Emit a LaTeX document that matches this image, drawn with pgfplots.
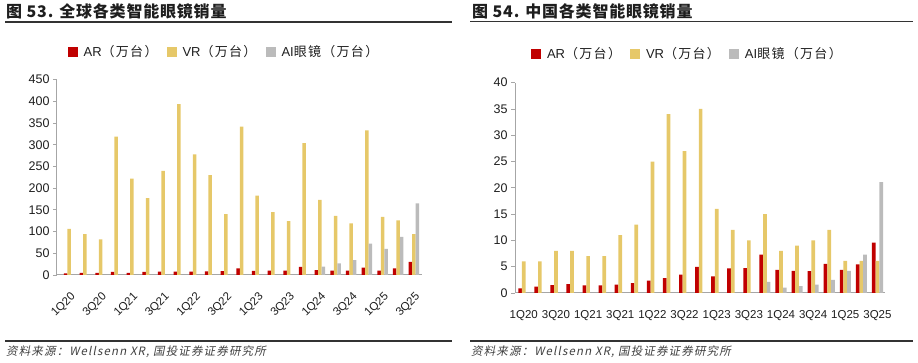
\documentclass[border=0pt]{standalone}
\usepackage{fontspec}
\setmainfont{Liberation Sans}
\newfontfamily\cjk{Noto Sans CJK SC}
\newfontfamily\cjkls{Noto Sans CJK SC}[LetterSpace=10]
\newfontfamily\cjkt{Noto Sans CJK SC}[LetterSpace=5]
\newfontfamily\cjkit{Noto Sans CJK SC}[FakeSlant=0.2,LetterSpace=10]
\usepackage{pgfplots}
\usepackage{pgfplotstable}
\pgfplotsset{compat=1.18}
\definecolor{arc}{RGB}{192,0,0}
\definecolor{vrc}{RGB}{230,200,105}
\definecolor{aic}{RGB}{187,187,187}
\definecolor{axc}{RGB}{166,166,166}
\definecolor{txc}{RGB}{30,30,30}

\pgfplotstableread{
i ar vr ai
0 4 106 nan
1 5 94 nan
2 5 82 nan
3 7 319 nan
4 5 222 nan
5 7 177 nan
6 8 240 nan
7 8 394 nan
8 8 278 nan
9 8.5 230 nan
10 9 140 nan
11 15 342 nan
12 9.5 183 nan
13 10 145 nan
14 10 124 nan
15 18.5 304 nan
16 11 173 19
17 10 136 27
18 10 119 34
19 17 333 72
20 10 134 60
21 15 126 88
22 30 94 165
}\globaltbl

\pgfplotstableread{
i ar vr ai
0 0.9 6 nan
1 1.2 6 nan
2 1.5 8 nan
3 1.7 8 nan
4 1.45 7 nan
5 1.45 7 nan
6 1.6 11 nan
7 1.9 13 nan
8 2.35 25 nan
9 2.85 34 nan
10 3.5 27 nan
11 4.95 35 nan
12 3.15 16 nan
13 4.7 12 nan
14 4.75 10 nan
15 7.3 15 2.1
16 4.4 8 1.0
17 4.2 9 1.3
18 4.15 10 1.6
19 5.55 12 2.5
20 4.4 6.1 4.2
21 5.45 6.1 7.3
22 9.6 6.1 21.1
}\chinatbl

\pgfplotsset{
  mybars/.style={
    scale only axis,
    ybar=0pt,
    axis lines=left,
    axis line style={-, draw=axc, line width=1pt},
    ymin=0,
    xtick={0,2,...,22},
    xticklabels={1Q20,3Q20,1Q21,3Q21,1Q22,3Q22,1Q23,3Q23,1Q24,3Q24,1Q25,3Q25},
    x tick style={draw=none},
    y tick style={draw=axc, line width=0.8pt},
    tick align=outside,
    major tick length=4pt,
    /pgf/number format/assume math mode=true,
    yticklabel style={font=\fontsize{12.5}{14}\selectfont, text=txc},
    legend columns=3,
    legend style={draw=none, fill=none, font=\fontsize{13}{15}\selectfont,
      text=txc, inner sep=0pt,
      /tikz/every even column/.append style={column sep=7pt},
      /tikz/every odd column/.append style={column sep=4pt}},
    every axis plot post/.append style={draw=none,
      legend image code/.code={\fill[##1] (0pt,-5pt) rectangle (10pt,5pt);}},
  }
}

\begin{document}
\begin{tikzpicture}[x=1pt,y=1pt]
\useasboundingbox (0,0) rectangle (918,363);

% ---------- left panel ----------
\node[anchor=west, inner sep=0pt, text=txc] at (6,352)
  {\fontsize{16}{18}\selectfont\cjkt\bfseries 图 53. 全球各类智能眼镜销量};
\draw[line width=1.3pt, color=black!80] (5,341) -- (452,341);

\begin{axis}[mybars,
  at={(57pt,88pt)}, anchor=south west,
  width=364.5pt, height=195.3pt,
  bar width=3.5pt,
  xmin=-0.78, xmax=22.49,
  ymax=450, ytick={0,50,...,450},
  xticklabel style={rotate=45, anchor=north east, inner sep=1pt,
    xshift=-7pt, yshift=-8pt,
    font=\fontsize{11.5}{14}\selectfont, text=txc},
  legend style={at={(0.458,1.144)}, anchor=center},
]
\addplot[fill=arc] table[x=i, y=ar] {\globaltbl};
\addplot[fill=vrc] table[x=i, y=vr] {\globaltbl};
\addplot[fill=aic] table[x=i, y=ai] {\globaltbl};
\legend{AR{\cjkls （万台）}, VR{\cjkls （万台）}, AI{\cjkls 眼镜（万台）}}
\end{axis}

\draw[line width=1.3pt, color=black!80] (5,22) -- (452,22);
\node[anchor=west, inner sep=0pt, text=black!75] at (6,11)
  {\fontsize{11.5}{13}\selectfont\cjkit 资料来源：Wellsenn XR, 国投证券证券研究所};

% ---------- right panel ----------
\node[anchor=west, inner sep=0pt, text=txc] at (472,352)
  {\fontsize{16}{18}\selectfont\cjkt\bfseries 图 54. 中国各类智能眼镜销量};
\draw[line width=1.3pt, color=black!80] (470,341.5) -- (913,341.5);

\begin{axis}[mybars,
  at={(515pt,70pt)}, anchor=south west,
  width=370pt, height=210.3pt,
  bar width=3.7pt,
  xmin=-0.547, xmax=22.47,
  ymax=40, ytick={0,5,...,40},
  xticklabel style={inner sep=1pt, yshift=-12pt,
    font=\fontsize{11.5}{14}\selectfont, text=txc},
  legend style={at={(0.466,1.138)}, anchor=center},
]
\addplot[fill=arc] table[x=i, y=ar] {\chinatbl};
\addplot[fill=vrc] table[x=i, y=vr] {\chinatbl};
\addplot[fill=aic] table[x=i, y=ai] {\chinatbl};
\legend{AR{\cjkls （万台）}, VR{\cjkls （万台）}, AI{\cjkls 眼镜（万台）}}
\end{axis}

\draw[line width=1.3pt, color=black!80] (470,22) -- (913,22);
\node[anchor=west, inner sep=0pt, text=black!75] at (471,11)
  {\fontsize{11.5}{13}\selectfont\cjkit 资料来源：Wellsenn XR, 国投证券证券研究所};
\end{tikzpicture}
\end{document}
